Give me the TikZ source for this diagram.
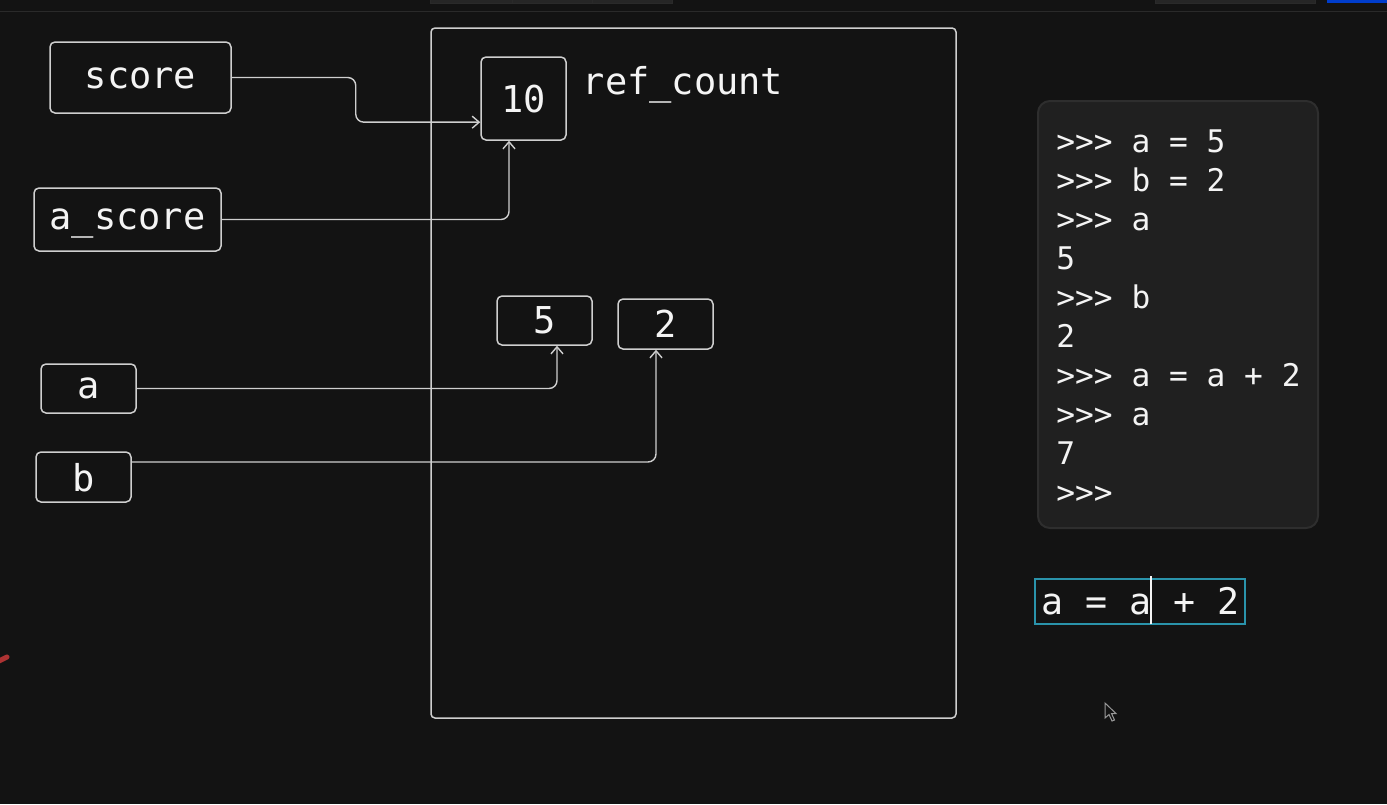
\documentclass[tikz,border=0pt]{standalone}
\usepackage{fontspec}
\newfontfamily\monofont{DejaVu Sans Mono}
\usetikzlibrary{calc,positioning,arrows.meta}

\newcommand{\unitpx}{0.5pt}
\definecolor{canvas}{HTML}{131313}
\definecolor{inkline}{HTML}{CFCFCF}
\definecolor{inktext}{HTML}{F4F4F4}
\definecolor{panel}{HTML}{202020}
\definecolor{panelrim}{HTML}{2E2E2E}
\definecolor{caret}{HTML}{2A93AB}
\definecolor{chrome}{HTML}{2A2A2A}

\tikzset{
  varbox/.style={draw=inkline, line width=0.75pt, rounded corners=2.5pt, text=inktext,
    font=\monofont\fontsize{18.5}{20}\selectfont, inner sep=0pt, text depth=0pt},
  link/.style={draw=inkline, line width=0.7pt, rounded corners=4pt,
    -{Straight Barb[length=3.5pt,width=6pt]}},
  codeline/.style={anchor=base west, inner sep=0pt, text=inktext,
    font=\monofont\fontsize{15.6}{18}\selectfont},
}

\begin{document}
\begin{tikzpicture}[x=0.5pt, y=-0.5pt]
	\useasboundingbox[fill=canvas] (0,0) rectangle (1387,804);
	
	% window chrome
	\draw[chrome] (0,11) -- (1387,11);
	\draw[chrome, fill=black!85] (430,-6) rectangle (672,3);
	\draw[chrome] (512,-6) -- (512,3) (592,-6) -- (592,3);
	\draw[chrome, fill=black!85] (1155,-6) rectangle (1315,3);
	\fill[blue!70!cyan!80!black] (1327,-6) rectangle (1392,3);
	\draw[red!60!black!80!white, line width=2.5pt, line cap=round] (-3,662) -- (7,657);
	
	% memory
	\draw[inkline, line width=0.75pt, rounded corners=2pt] (431,28) rectangle (956,718);
	
	\node[varbox, minimum width=181*\unitpx, minimum height=71*\unitpx, text height=1.1em] (score) at (140.5,77.5) {score};
	\node[varbox, minimum width=187*\unitpx, minimum height=63*\unitpx] (ascore) at (127.5,219.5) {a\_score};
	\node[varbox, minimum width=95*\unitpx, minimum height=49*\unitpx] (a) at (88.5,388.5) {a};
	\node[varbox, minimum width=95*\unitpx, minimum height=50*\unitpx] (b) at (83.5,477) {b};
	
	\node[varbox, minimum width=85*\unitpx, minimum height=83*\unitpx] (val10) at (523.5,98.5) {10};
	\node[varbox, draw=none, anchor=west] (refcount) at (582,80) {ref\_count};
	\node[varbox, minimum width=95*\unitpx, minimum height=49*\unitpx] (val5) at (544.5,320.5) {5};
	\node[varbox, minimum width=95*\unitpx, minimum height=50*\unitpx] (val2) at (665.5,324) {2};
	
	\draw[link] (score.east) -- ++(124,0) |- ($(val10.south west)!0.22!(val10.north west)$);
	\draw[link] (ascore.east) -| ([xshift=-7.25pt]val10.south);
	\draw[link] (a.east) -| ([xshift=6.25pt]val5.south);
	\draw[link] ([yshift=7.5pt]b.east) -| ([xshift=-4.75pt]val2.south);
	
	% console
	\node[fill=panel, draw=panelrim, line width=1pt, rounded corners=6pt,
	  minimum width=280*\unitpx, minimum height=427*\unitpx] (console) at (1178,314.5) {};
	\foreach \txt [count=\i] in {{>>> a = 5}, {>>> b = 2}, {>>> a}, {5}, {>>> b}, {2},
	    {>>> a = a + 2}, {>>> a}, {7}, {>>>}}
		\node[codeline] (line\i) at (1056,{152+39*(\i-1)}) {\txt};
	
	% input field
	\node[draw=caret, line width=1pt, minimum width=210*\unitpx, minimum height=45*\unitpx] (prompt) at (1140,601.5) {};
	\node[codeline, font=\monofont\fontsize{18.3}{20}\selectfont] (typed) at (1041,614) {a = a + 2};
	\draw[inktext, line width=1pt] (1151,576) -- (1151,624);
	
	% pointer
	\draw[gray!80, line width=0.5pt, fill=canvas] (1105,703) -- (1105,718) -- (1109,714.5) -- (1112,721)
	  -- (1114.5,720) -- (1111.5,713.5) -- (1116,713.5) -- cycle;
\end{tikzpicture}
\end{document}
